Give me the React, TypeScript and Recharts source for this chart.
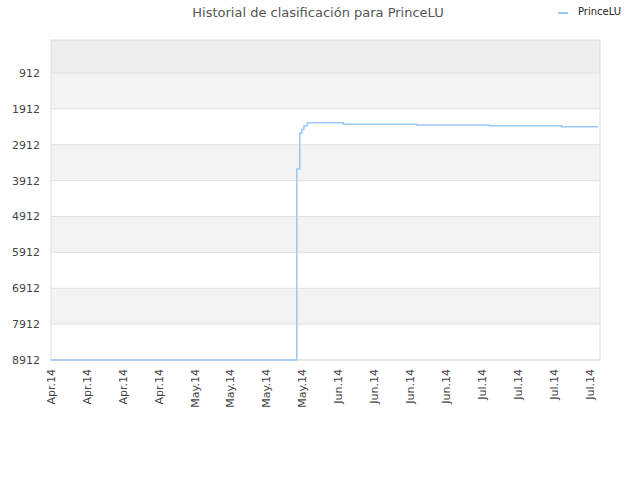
import React from "react";
import { ComposedChart, Line, XAxis, YAxis, ReferenceArea, ReferenceLine } from "recharts";

// x = days since first label, y = rank (lower is better, axis reversed)
const days = [0, 47.9, 48.5, 48.9, 49.3, 49.95, 57, 71.3, 85.4, 99.5, 106.6];
const ranks = [8912, 3588, 2584, 2480, 2380, 2297, 2340, 2360, 2385, 2410, 2410];

const xTickDays = [0, 7, 14, 21, 28, 35, 42, 49, 56, 63, 70, 77, 84, 91, 98, 105];
const xTickLabels = [
  "Apr.14", "Apr.14", "Apr.14", "Apr.14",
  "May.14", "May.14", "May.14", "May.14",
  "Jun.14", "Jun.14", "Jun.14", "Jun.14",
  "Jul.14", "Jul.14", "Jul.14", "Jul.14",
];
const yTicks = [912, 1912, 2912, 3912, 4912, 5912, 6912, 7912, 8912];
const yMin = -8;
const xMax = 107;
const bandColors = ["#eeeeee", "#f3f3f3", "#ffffff", "#f3f3f3", "#ffffff", "#f3f3f3", "#ffffff", "#f3f3f3", "#ffffff"];

const data = days.map((d, i) => ({ day: d, rank: ranks[i] }));
const bandEdges = [yMin, ...yTicks];

const FONT = "'DejaVu Sans', sans-serif";

const XTick = (props: any) => {
  const { x, y, payload, index } = props;
  const label = xTickLabels[xTickDays.indexOf(payload.value)] ?? xTickLabels[index];
  return (
    <text
      x={x}
      y={y}
      transform={`rotate(-90, ${x}, ${y})`}
      textAnchor="end"
      dy="0.35em"
      fontSize={11}
      fill="#444"
      fontFamily={FONT}
    >
      {label}
    </text>
  );
};

export default function App() {
  return (
    <div style={{ position: "absolute", left: 0, top: 0, width: 640, height: 480, background: "#fff", fontFamily: FONT }}>
      <div
        style={{
          position: "absolute",
          left: 0,
          width: 636,
          top: 5,
          textAlign: "center",
          fontSize: 13,
          color: "#555",
          fontFamily: FONT,
        }}
      >
        Historial de clasificación para PrinceLU
      </div>
      <div style={{ position: "absolute", left: 558, top: 12, width: 10, height: 2, background: "#9ac7f7" }} />
      <div style={{ position: "absolute", left: 578, top: 6, fontSize: 10, color: "#222", fontFamily: FONT }}>PrinceLU</div>
      <ComposedChart
        width={640}
        height={480}
        data={data}
        margin={{ top: 40, right: 40, left: 0, bottom: 0 }}
      >
        <XAxis
          dataKey="day"
          type="number"
          domain={[0, xMax]}
          ticks={xTickDays}
          interval={0}
          height={120}
          axisLine={false}
          tickLine={false}
          tickSize={0}
          tick={(p: any) => {
            const { key, ...rest } = p;
            return <XTick key={key} {...rest} y={369} />;
          }}
        />
        <YAxis
          type="number"
          reversed
          domain={[yMin, 8912]}
          ticks={yTicks}
          interval={0}
          width={51}
          axisLine={false}
          tickLine={false}
          tickSize={8}
          tickMargin={3}
          tick={{ fontSize: 11, fill: "#444", fontFamily: FONT }}
        />
        {bandEdges.slice(0, -1).map((edge, i) => (
          <ReferenceArea
            key={`band-${i}`}
            x1={0}
            x2={xMax}
            y1={edge}
            y2={bandEdges[i + 1]}
            fill={bandColors[i]}
            fillOpacity={1}
            stroke="none"
            ifOverflow="visible"
          />
        ))}
        {yTicks.map((t) => (
          <ReferenceLine key={`gl-${t}`} y={t} stroke="#e0e0e0" strokeWidth={1} ifOverflow="visible" />
        ))}
        <ReferenceArea
          x1={0}
          x2={xMax}
          y1={yMin}
          y2={8912}
          fill="none"
          fillOpacity={0}
          stroke="#dddddd"
          strokeWidth={1}
          ifOverflow="visible"
        />
        <Line
          type="stepAfter"
          dataKey="rank"
          stroke="#9ac7f7"
          strokeWidth={1.5}
          dot={false}
          activeDot={false}
          isAnimationActive={false}
        />
      </ComposedChart>
    </div>
  );
}
